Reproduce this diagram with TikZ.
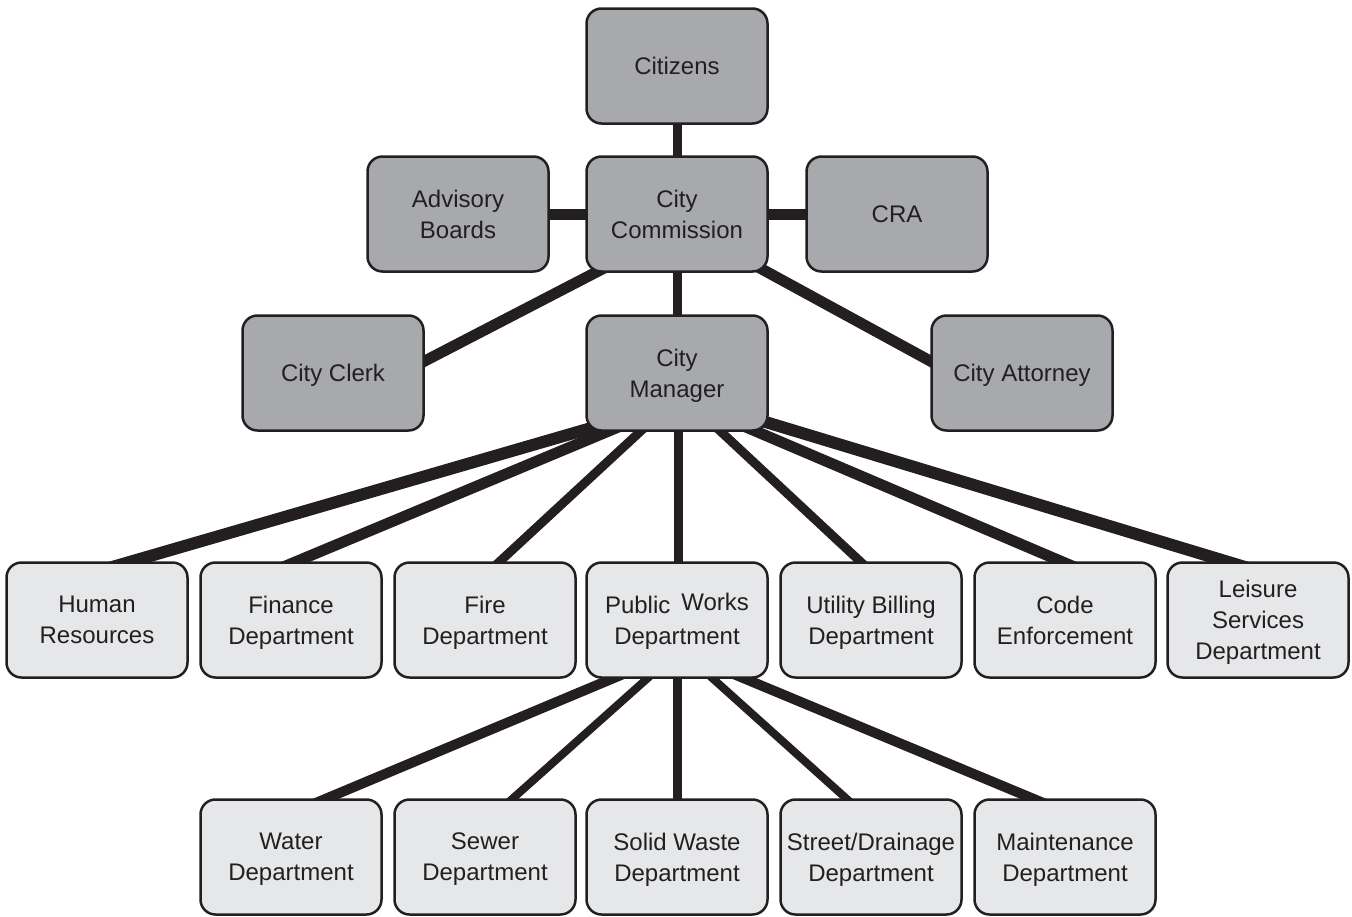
\documentclass[tikz,border=0pt]{standalone}
\usepackage{fontspec}
\setmainfont{Liberation Sans}
\usetikzlibrary{calc,backgrounds}
\definecolor{ink}{HTML}{231F20}
\definecolor{darkbox}{HTML}{A7A9AC}
\definecolor{lightbox}{HTML}{E6E7E8}
\tikzset{
  box/.style={rectangle, rounded corners=15pt, draw=ink, line width=2.5pt,
    minimum width=181pt, minimum height=115pt, inner sep=0pt, align=center,
    text=ink, font=\fontsize{24}{31}\selectfont, text depth=0pt},
  upper/.style={box, fill=darkbox},
  lower/.style={box, fill=lightbox},
  link/.style={draw=ink, line cap=butt}
}
\begin{document}
\begin{tikzpicture}[x=1pt,y=-1pt]
\useasboundingbox (0,0) rectangle (1352,916);
% upper level
\node[upper] (cit) at (677,66) {Citizens};
\node[upper] (com) at (677,214) {City\\Commission};
\node[upper] (adv) at (458,214) {Advisory\\Boards};
\node[upper] (cra) at (897,214) {CRA};
\node[upper] (clerk) at (333,373) {City Clerk};
\node[upper] (mgr) at (677,373) {City\\Manager};
\node[upper] (att) at (1022,373) {City Attorney};
% departments
\node[lower] (hr) at (97,620) {Human\\Resources};
\node[lower] (fin) at (291,620) {Finance\\Department};
\node[lower] (fire) at (485,620) {Fire\\Department};
\node[lower] (pw) at (677,620) {Public\hspace{11pt}\raisebox{3pt}[0pt][0pt]{Works}\\Department};
\node[lower] (ub) at (871,620) {Utility Billing\\Department};
\node[lower] (code) at (1065,620) {Code\\Enforcement};
\node[lower] (lei) at (1258,620) {Leisure\\Services\\Department};
% public works divisions
\node[lower] (wat) at (291,857) {Water\\Department};
\node[lower] (sew) at (485,857) {Sewer\\Department};
\node[lower] (sol) at (677,857) {Solid Waste\\Department};
\node[lower] (str) at (871,857) {Street/Drainage\\Department};
\node[lower] (mnt) at (1065,857) {Maintenance\\Department};
% connectors
\begin{pgfonlayer}{background}
\draw[link, line width=9pt] (cit.center) -- (com.center);
\draw[link, line width=9pt] (com.center) -- (mgr.center);
\draw[link, line width=11pt] (adv.center) -- (com.center);
\draw[link, line width=11pt] (com.center) -- (cra.center);
\coordinate (p1) at ($(com.south)+(-80,-1)$);
\coordinate (c1) at ($(clerk.east)+(0,-12)$);
\draw[link, line width=11pt] ($(p1)!-30pt!(c1)$) -- ($(c1)!-30pt!(p1)$);
\coordinate (p2) at ($(com.south)+(86,-3)$);
\coordinate (c2) at ($(att.west)+(0,-12)$);
\draw[link, line width=11pt] ($(p2)!-30pt!(c2)$) -- ($(c2)!-30pt!(p2)$);
% manager to departments
\coordinate (m1) at ($(mgr.south)+(-85,-4)$);
\coordinate (d1) at ($(hr.north)+(35,0)$);
\draw[link, line width=12pt] ($(m1)!-40pt!(d1)$) -- ($(d1)!-30pt!(m1)$);
\coordinate (m2) at ($(mgr.south)+(-70,0)$);
\coordinate (d2) at ($(fin.north)+(6,0)$);
\draw[link, line width=11pt] ($(m2)!-30pt!(d2)$) -- ($(d2)!-30pt!(m2)$);
\coordinate (m3) at ($(mgr.south)+(-37,0)$);
\coordinate (d3) at ($(fire.north)+(15,0)$);
\draw[link, line width=9pt] ($(m3)!-30pt!(d3)$) -- ($(d3)!-30pt!(m3)$);
\draw[link, line width=9pt] ($(mgr.south)+(1,-20)$) -- ($(pw.north)+(1,20)$);
\coordinate (m5) at ($(mgr.south)+(44,0)$);
\coordinate (d5) at ($(ub.north)+(-11,0)$);
\draw[link, line width=9pt] ($(m5)!-30pt!(d5)$) -- ($(d5)!-30pt!(m5)$);
\coordinate (m6) at ($(mgr.south)+(80,0)$);
\coordinate (d6) at ($(code.north)+(-4,0)$);
\draw[link, line width=11pt] ($(m6)!-30pt!(d6)$) -- ($(d6)!-30pt!(m6)$);
\coordinate (m7) at ($(mgr.south)+(91,-9)$);
\coordinate (d7) at ($(lei.north)+(-32,0)$);
\draw[link, line width=12pt] ($(m7)!-40pt!(d7)$) -- ($(d7)!-30pt!(m7)$);
% public works to divisions
\coordinate (q1) at ($(pw.south)+(-65,0)$);
\coordinate (e1) at ($(wat.north)+(36,0)$);
\draw[link, line width=10pt] ($(q1)!-30pt!(e1)$) -- ($(e1)!-30pt!(q1)$);
\coordinate (q2) at ($(pw.south)+(-30,0)$);
\coordinate (e2) at ($(sew.north)+(28,0)$);
\draw[link, line width=8pt] ($(q2)!-30pt!(e2)$) -- ($(e2)!-30pt!(q2)$);
\draw[link, line width=9pt] ($(pw.south)+(0,-20)$) -- ($(sol.north)+(0,20)$);
\coordinate (q4) at ($(pw.south)+(36,0)$);
\coordinate (e4) at ($(str.north)+(-25,0)$);
\draw[link, line width=8pt] ($(q4)!-30pt!(e4)$) -- ($(e4)!-30pt!(q4)$);
\coordinate (q5) at ($(pw.south)+(68,0)$);
\coordinate (e5) at ($(mnt.north)+(-33,0)$);
\draw[link, line width=10pt] ($(q5)!-30pt!(e5)$) -- ($(e5)!-30pt!(q5)$);
\end{pgfonlayer}
\end{tikzpicture}
\end{document}
